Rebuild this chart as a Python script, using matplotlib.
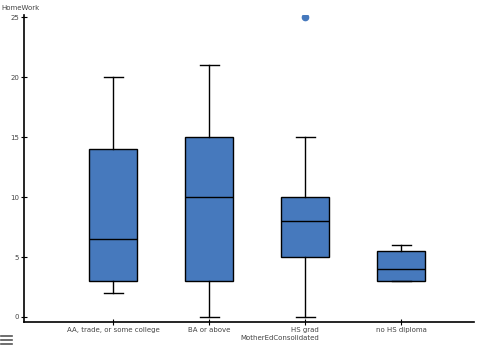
import matplotlib
matplotlib.use('Agg')
import matplotlib.pyplot as plt
from matplotlib.lines import Line2D

# box stats
groups = ['AA, trade, or some college', 'BA or above', 'HS grad', 'no HS diploma']
low = [2, 0, 0, 3]
q1 = [3, 3, 5, 3]
med = [6.5, 10, 8, 4]
q3 = [14, 15, 10, 5.5]
high = [20, 21, 15, 6]
outliers = [[], [], [25], []]

color = '#4679BD'

stats = []
for i in range(len(groups)):
    stats.append({'whislo': low[i], 'q1': q1[i], 'med': med[i], 'q3': q3[i],
                  'whishi': high[i], 'fliers': outliers[i], 'label': groups[i]})

fig = plt.figure(figsize=(4.79, 3.46), dpi=100)
ax = fig.add_axes([24/479, 24/346, 450/479, 307/346])

ax.bxp(stats, positions=range(len(groups)), widths=0.5, patch_artist=True,
       boxprops=dict(facecolor=color, edgecolor='black', linewidth=1.0),
       medianprops=dict(color='black', linewidth=1.0),
       whiskerprops=dict(color='black', linewidth=1.0),
       capprops=dict(color='black', linewidth=1.0),
       capwidths=0.2,
       flierprops=dict(marker='o', markerfacecolor=color, markeredgecolor=color, markersize=4.5))

ax.set_xlim(-0.93, 3.757)
ax.set_ylim(-0.42, 25.2)
ax.set_yticks([0, 5, 10, 15, 20, 25])
ax.set_xticks(range(len(groups)))
ax.set_xticklabels(groups)
ax.spines['top'].set_visible(False)
ax.spines['right'].set_visible(False)
ax.spines['left'].set_linewidth(1.2)
ax.spines['bottom'].set_linewidth(1.2)
ax.tick_params(axis='both', direction='inout', length=4, width=0.8, labelsize=5,
               labelcolor='#444444', pad=1.5)

fig.text(1/479, 1 - 8/346, 'HomeWork', fontsize=5, color='#444444', va='center', ha='left')
fig.text(280/479, 1 - 338/346, 'MotherEdConsolidated', fontsize=5, color='#444444',
         va='center', ha='center')

# menu icon bottom left
for yy in [336, 340, 344]:
    fig.add_artist(Line2D([1/479, 12/479], [1 - yy/346, 1 - yy/346],
                          color='#555555', linewidth=1.2))

fig.savefig('out.png', dpi=100)
